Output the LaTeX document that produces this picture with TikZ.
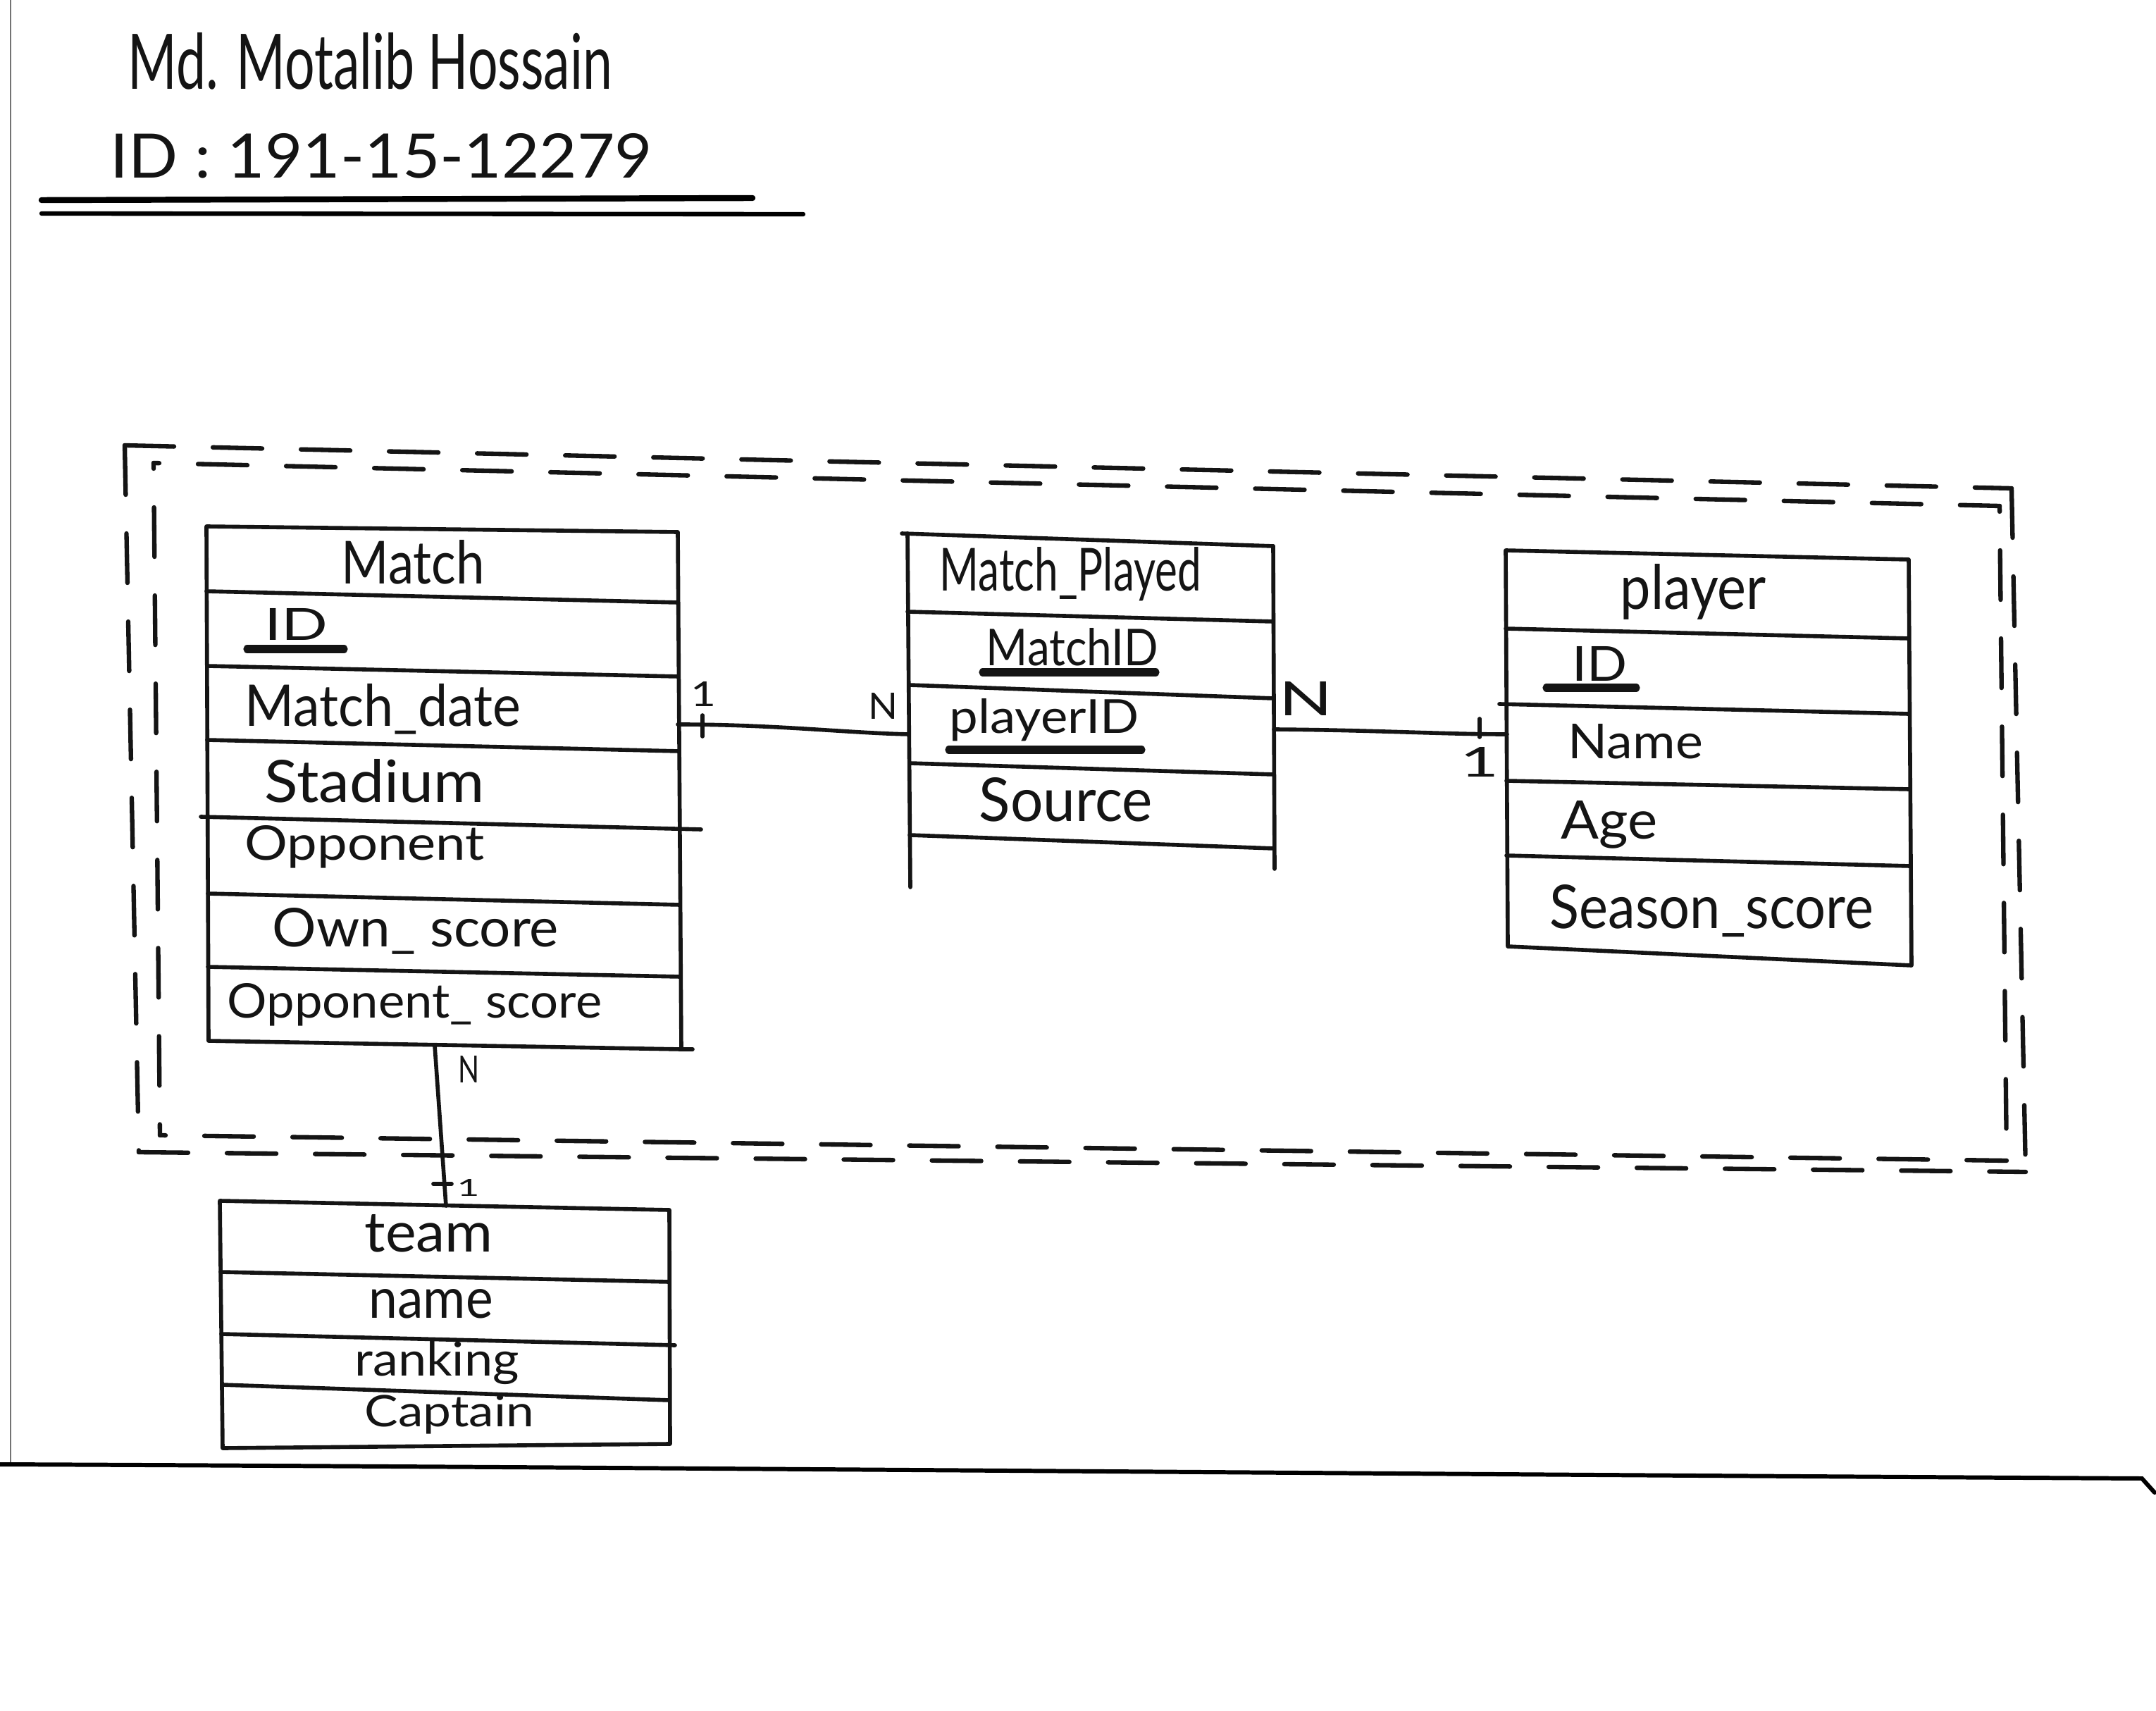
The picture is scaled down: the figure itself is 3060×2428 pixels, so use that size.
\documentclass[tikz,border=0pt]{standalone}
\usepackage{fontspec}
\setmainfont{Lato}
\usepackage{graphicx}
\newcommand{\hwtext}[3]{\resizebox{#1}{#2}{#3}}
\tikzset{
  ink/.style={line width=1.6pt, line cap=round, line join=round, draw=black!92},
  dashink/.style={line width=1.8pt, line cap=round, draw=black!92, dash pattern=on 0.7cm off 0.55cm},
  dashinner/.style={dashink, dash phase=0.62cm},
  lbl/.style={inner sep=0pt, anchor=base west, text=black!92},
  uline/.style={line width=3.2pt, line cap=round, draw=black!92},
  paperedge/.style={line width=0.8pt, draw=black!55},
}
\begin{document}
\begin{tikzpicture}[x=0.01cm,y=-0.01cm]
\fill[white] (0,0) rectangle (3060,2428);
\useasboundingbox (0,0) rectangle (3060,2428);

% paper edges
\draw[paperedge] (15,0) -- (15,2078);
\draw[line width=1.7pt, line cap=round] (0,2078) .. controls (900,2082) and (2000,2092) .. (3040,2098) -- (3058,2118);

% header
\node[lbl] (author) at (181,127) {\hwtext{6.87cm}{0.80cm}{Md. Motalib Hossain}};
\node[lbl] (sid) at (156,253) {\hwtext{7.69cm}{0.63cm}{ID : 191-15-12279}};
\draw[line width=2.4pt, line cap=round] (59,284) -- (1068,281);
\draw[line width=1.8pt, line cap=round] (59,303) -- (1140,304);

% dashed aggregation border (double)
\coordinate (oTL) at (177,632); \coordinate (oTR) at (2855,693);
\coordinate (oBR) at (2875,1663); \coordinate (oBL) at (197,1635);
\coordinate (iTL) at (218,657); \coordinate (iTR) at (2838,718);
\coordinate (iBR) at (2848,1647); \coordinate (iBL) at (227,1611);
\draw[dashink] (oTL) -- (oTR);
\draw[dashink] (oTR) -- (oBR);
\draw[dashink] (oBL) -- (oBR);
\draw[dashink] (oTL) -- (oBL);
\draw[dashinner] (iTL) -- (iTR);
\draw[dashinner] (iTR) -- (iBR);
\draw[dashinner] (iBL) -- (iBR);
\draw[dashinner] (iTL) -- (iBL);

% ---------- Match ----------
\draw[ink] (293,747) -- (962,755) -- (967,1489) -- (296,1477) -- cycle;
\draw[ink] (293,839) -- (962,855);
\draw[ink] (294,945) -- (963,960);
\draw[ink] (294,1050) -- (964,1066);
\draw[ink] (285,1159) -- (995,1177);
\draw[ink] (295,1268) -- (965,1284);
\draw[ink] (295,1372) -- (966,1386);
\draw[ink] (967,1489) -- (983,1489);
\node[lbl] (mTitle) at (484,829) {\hwtext{2.03cm}{0.62cm}{Match}};
\node[lbl] (mID) at (375,909) {\hwtext{0.90cm}{0.45cm}{ID}};
\draw[uline] (351,921) -- (488,921);
\node[lbl] (mDate) at (347,1030) {\hwtext{3.91cm}{0.60cm}{Match\_date}};
\node[lbl] (mStad) at (375,1138) {\hwtext{3.12cm}{0.61cm}{Stadium}};
\node[lbl] (mOpp) at (347,1220) {\hwtext{3.40cm}{0.49cm}{Opponent}};
\node[lbl] (mOwn) at (386,1343) {\hwtext{4.06cm}{0.55cm}{Own\_ score}};
\node[lbl] (mOppS) at (322,1444) {\hwtext{5.31cm}{0.49cm}{Opponent\_ score}};

% ---------- Match_Played ----------
\draw[ink] (1280,757) -- (1807,775);
\draw[ink] (1288,757) -- (1292,1259);
\draw[ink] (1807,775) -- (1809,1233);
\draw[ink] (1288,868) -- (1807,882);
\draw[ink] (1290,972) -- (1807,991);
\draw[ink] (1291,1083) -- (1808,1099);
\draw[ink] (1291,1185) -- (1808,1204);
\node[lbl] (mpTitle) at (1333,839) {\hwtext{3.71cm}{0.62cm}{Match\_Played}};
\node[lbl] (mpMID) at (1399,945) {\hwtext{2.44cm}{0.53cm}{MatchID}};
\draw[uline] (1395,954) -- (1640,954);
\node[lbl] (mpPID) at (1347,1040) {\hwtext{2.69cm}{0.49cm}{playerID}};
\draw[uline] (1347,1064) -- (1620,1064);
\node[lbl] (mpSrc) at (1389,1165) {\hwtext{2.46cm}{0.62cm}{Source}};

% ---------- player ----------
\draw[ink] (2137,781) -- (2709,794) -- (2713,1370) -- (2140,1343) -- cycle;
\draw[ink] (2137,892) -- (2709,906);
\draw[ink] (2128,999) -- (2709,1013);
\draw[ink] (2138,1108) -- (2710,1120);
\draw[ink] (2138,1214) -- (2711,1229);
\node[lbl] (pTitle) at (2299,864) {\hwtext{2.07cm}{0.64cm}{player}};
\node[lbl] (pID) at (2231,966) {\hwtext{0.78cm}{0.49cm}{ID}};
\draw[uline] (2195,976) -- (2322,976);
\node[lbl] (pName) at (2225,1077) {\hwtext{1.91cm}{0.49cm}{Name}};
\node[lbl] (pAge) at (2215,1190) {\hwtext{1.37cm}{0.54cm}{Age}};
\node[lbl] (pSeason) at (2199,1317) {\hwtext{4.59cm}{0.62cm}{Season\_score}};

% ---------- team ----------
\draw[ink] (312,1704) -- (950,1717) -- (951,2049) -- (316,2055) -- cycle;
\draw[ink] (313,1805) -- (950,1819);
\draw[ink] (314,1893) -- (958,1909);
\draw[ink] (315,1965) -- (950,1987);
\node[lbl] (tTitle) at (517,1776) {\hwtext{1.82cm}{0.53cm}{team}};
\node[lbl] (tName) at (523,1870) {\hwtext{1.76cm}{0.41cm}{name}};
\node[lbl] (tRank) at (503,1952) {\hwtext{2.33cm}{0.49cm}{ranking}};
\node[lbl] (tCapt) at (517,2024) {\hwtext{2.40cm}{0.45cm}{Captain}};

% ---------- connectors ----------
\coordinate (mR) at (962,1028);
\coordinate (mpL) at (1290,1042);
\coordinate (mpR) at (1808,1035);
\coordinate (pL) at (2139,1042);
\coordinate (mB) at (617,1484);
\coordinate (tT) at (633,1711);

\draw[ink] (mR) .. controls (1100,1028) and (1200,1040) .. (mpL);
\draw[ink] (997,1015) -- (997,1045);
\node[lbl] (c1a) at (980,1002) {\hwtext{0.36cm}{0.35cm}{1}};
\node[lbl] (c1b) at (1232,1020) {\hwtext{0.42cm}{0.37cm}{N}};

\draw[ink] (mpR) .. controls (1950,1036) and (2050,1042) .. (pL);
\draw[ink] (2100,1020) -- (2100,1046);
\node[lbl] (c2a) at (2072,1102) {\hwtext{0.55cm}{0.42cm}{1}};
\node[lbl] (c2b) at (1815,1015) {\hwtext{0.76cm}{0.48cm}{N}};

\draw[ink] (mB) -- (tT);
\draw[ink] (615,1680) -- (641,1680);
\node[lbl] (c3a) at (650,1536) {\hwtext{0.30cm}{0.38cm}{N}};
\node[lbl] (c3b) at (648,1697) {\hwtext{0.32cm}{0.24cm}{1}};

\end{tikzpicture}
\end{document}
